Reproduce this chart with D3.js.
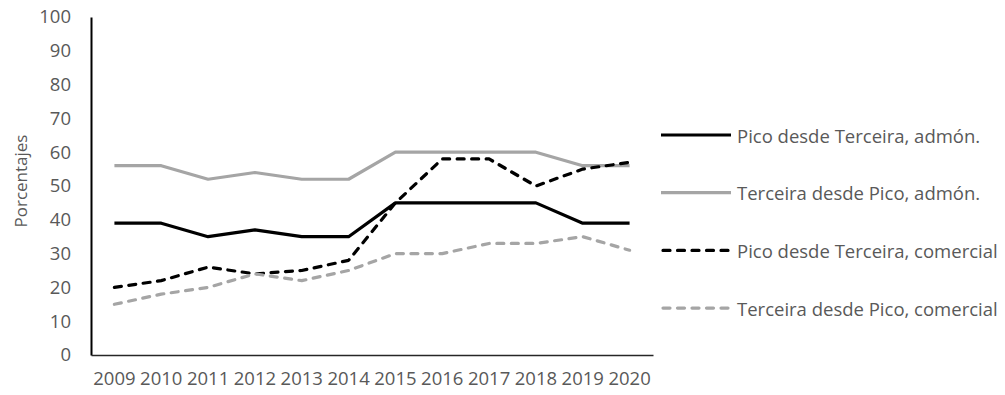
<!DOCTYPE html>
<html>
<head>
<meta charset="utf-8">
<script src="https://cdn.jsdelivr.net/npm/d3@7"></script>
<style>
  html, body { margin: 0; padding: 0; background: #fff; }
  svg text { font-family: "Open Sans", "Noto Sans", sans-serif; fill: #595959; }
</style>
</head>
<body>
<svg id="chart" width="1005" height="395"></svg>
<script>
// Years on the horizontal axis
const years = ["2009","2010","2011","2012","2013","2014","2015","2016","2017","2018","2019","2020"];

// Percentages per series
const picoAdmon      = [39, 39, 35, 37, 35, 35, 45, 45, 45, 45, 39, 39];
const terceiraAdmon  = [56, 56, 52, 54, 52, 52, 60, 60, 60, 60, 56, 56];
const picoComercial  = [20, 22, 26, 24, 25, 28, 45, 58, 58, 50, 55, 57];
const terceiraComercial = [15, 18, 20, 24, 22, 25, 30, 30, 33, 33, 35, 31];

const seriesNames = [
  "Pico desde Terceira, admón.",
  "Terceira desde Pico, admón.",
  "Pico desde Terceira, comercial",
  "Terceira desde Pico, comercial"
];

const yTicks = [0, 10, 20, 30, 40, 50, 60, 70, 80, 90, 100];

const series = [
  { name: seriesNames[0], values: picoAdmon,         color: "#000000", dash: null },
  { name: seriesNames[1], values: terceiraAdmon,     color: "#a5a5a5", dash: null },
  { name: seriesNames[2], values: picoComercial,     color: "#000000", dash: "7,7.5" },
  { name: seriesNames[3], values: terceiraComercial, color: "#a5a5a5", dash: "7,7.5" }
];

const svg = d3.select("#chart");
const plot = { left: 91, right: 653, top: 17, bottom: 355 };

const x = d3.scaleBand().domain(years).range([plot.left, plot.right]);
const y = d3.scaleLinear().domain([0, 100]).range([plot.bottom, plot.top]);

// Y axis: labels only plus the vertical rule
const yAxis = svg.append("g")
  .attr("transform", `translate(${plot.left},0)`)
  .call(d3.axisLeft(y).tickValues(yTicks).tickSize(0).tickPadding(20));
yAxis.select(".domain").attr("stroke", "#000").attr("stroke-width", 2);
yAxis.selectAll("text").style("font-size", "18.5px").attr("fill", "#595959");

// X axis
const xAxis = svg.append("g")
  .attr("transform", `translate(0,${plot.bottom})`)
  .call(d3.axisBottom(x).tickSize(0).tickPadding(17));
xAxis.select(".domain").attr("stroke", "#262626").attr("stroke-width", 1.5);
xAxis.selectAll("text").style("font-size", "18.5px").attr("fill", "#595959");

// Axis title
svg.append("text")
  .attr("transform", `translate(20,181) rotate(-90)`)
  .attr("text-anchor", "middle")
  .attr("dominant-baseline", "central")
  .style("font-size", "17px")
  .text("Porcentajes");

// Series lines
const line = d3.line()
  .x((d, i) => x(years[i]) + x.bandwidth() / 2)
  .y(d => y(d));

series.forEach(s => {
  svg.append("path")
    .datum(s.values)
    .attr("fill", "none")
    .attr("stroke", s.color)
    .attr("stroke-width", 3.2)
    .attr("stroke-linejoin", "round")
    .attr("stroke-linecap", s.dash ? "round" : "butt")
    .attr("stroke-dasharray", s.dash)
    .attr("d", line);
});

// Legend
const legend = svg.append("g");
series.forEach((s, i) => {
  const ly = 135 + i * 57.7;
  legend.append("line")
    .attr("x1", s.dash ? 663 : 661).attr("x2", s.dash ? 729 : 731)
    .attr("y1", ly).attr("y2", ly)
    .attr("stroke", s.color)
    .attr("stroke-width", 3.2)
    .attr("stroke-linecap", s.dash ? "round" : "butt")
    .attr("stroke-dasharray", s.dash);
  legend.append("text")
    .attr("x", 737).attr("y", ly)
    .attr("dominant-baseline", "central")
    .style("font-size", "18.5px")
    .text(s.name);
});
</script>
</body>
</html>
